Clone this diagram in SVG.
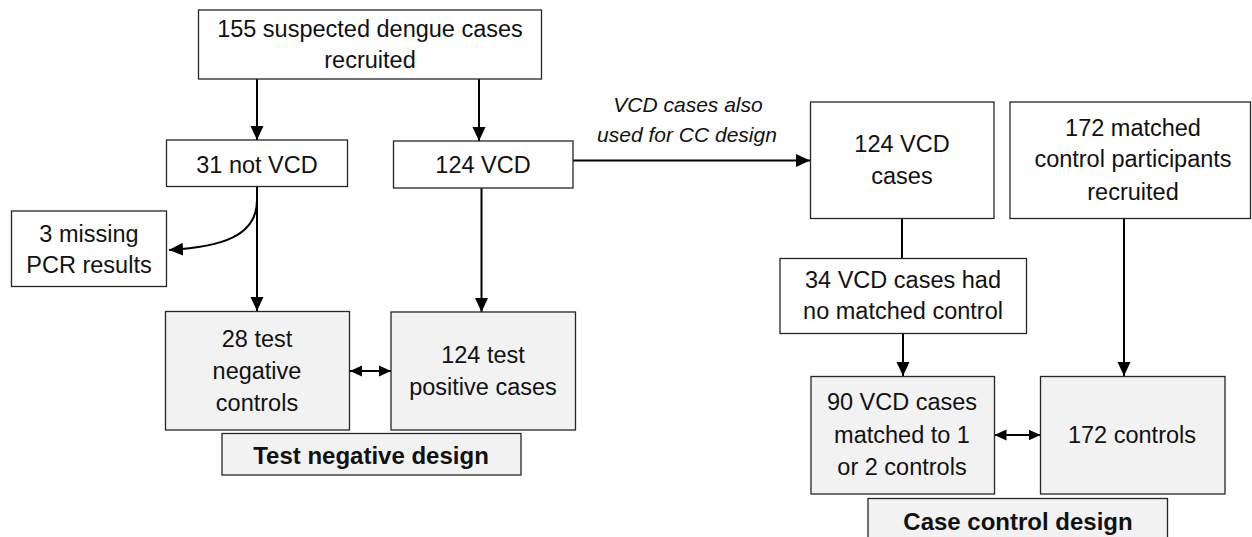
<svg xmlns="http://www.w3.org/2000/svg" width="1252" height="537" viewBox="0 0 1252 537">
<style>
.box{fill:#ffffff;stroke:#262626;stroke-width:1.3}
.gbox{fill:#f2f2f2;stroke:#262626;stroke-width:1.3}
.t{font-family:"Liberation Sans",Arial,sans-serif;font-size:23.5px;fill:#111;text-anchor:middle}
.i{font-family:"Liberation Sans",Arial,sans-serif;font-size:21px;font-style:italic;fill:#111;text-anchor:middle}
.b{font-family:"Liberation Sans",Arial,sans-serif;font-size:24px;font-weight:bold;fill:#111;text-anchor:middle}
.c{fill:none;stroke:#000;stroke-width:2}
</style>
<defs>
<marker id="ah" markerUnits="userSpaceOnUse" markerWidth="14" markerHeight="14" viewBox="0 0 14 14" refX="14" refY="7" orient="auto-start-reverse">
<path d="M0,0.5 L14,7 L0,13.5 z" fill="#000"/>
</marker>
<marker id="ahs" markerUnits="userSpaceOnUse" markerWidth="12" markerHeight="12" viewBox="0 0 12 12" refX="12" refY="6" orient="auto-start-reverse">
<path d="M0,0.5 L12,6 L0,11.5 z" fill="#000"/>
</marker>
</defs>
<g id="connectors">
<line class="c" x1="257" y1="79" x2="257" y2="140" marker-end="url(#ah)"/>
<line class="c" x1="479" y1="79" x2="479" y2="141" marker-end="url(#ah)"/>
<line class="c" x1="573" y1="160.5" x2="810" y2="160.5" marker-end="url(#ah)"/>
<line class="c" x1="257" y1="186" x2="257" y2="311" marker-end="url(#ah)"/>
<path class="c" d="M257,200 C257,236 222,247 169,250" marker-end="url(#ah)"/>
<line class="c" x1="481.5" y1="188" x2="481.5" y2="312" marker-end="url(#ah)"/>
<line class="c" x1="350" y1="371" x2="391" y2="371" marker-start="url(#ahs)" marker-end="url(#ahs)"/>
<line class="c" x1="902" y1="219" x2="902" y2="258"/>
<line class="c" x1="903" y1="334" x2="903" y2="376" marker-end="url(#ah)"/>
<line class="c" x1="1124" y1="219" x2="1124" y2="376" marker-end="url(#ah)"/>
<line class="c" x1="994.5" y1="435" x2="1040.5" y2="435" marker-start="url(#ahs)" marker-end="url(#ahs)"/>
<text class="i" x="688" y="111.5">VCD cases also</text>
<text class="i" x="687" y="141.5">used for CC design</text>
</g>
<g id="n-suspected">
<rect class="box" x="198.5" y="10" width="343" height="69"/>
<text class="t" x="370" y="36.5">155 suspected dengue cases</text>
<text class="t" x="370" y="68">recruited</text>
</g>
<g id="n-notvcd">
<rect class="box" x="166.5" y="140" width="181" height="46.5"/>
<text class="t" x="257" y="172.5">31 not VCD</text>
</g>
<g id="n-vcd">
<rect class="box" x="393.5" y="141" width="179.5" height="47"/>
<text class="t" x="483" y="173">124 VCD</text>
</g>
<g id="n-missing">
<rect class="box" x="11.5" y="211" width="155" height="75.5"/>
<text class="t" x="89" y="242">3 missing</text>
<text class="t" x="89" y="272.5">PCR results</text>
</g>
<g id="n-testneg">
<rect class="gbox" x="165.5" y="311.5" width="184" height="118.5"/>
<text class="t" x="257" y="347">28 test</text>
<text class="t" x="257" y="379">negative</text>
<text class="t" x="257" y="410.5">controls</text>
</g>
<g id="n-testpos">
<rect class="gbox" x="391" y="312" width="184.5" height="118"/>
<text class="t" x="483" y="362.5">124 test</text>
<text class="t" x="483" y="394.5">positive cases</text>
</g>
<g id="n-tnd">
<rect class="gbox" x="222" y="433.5" width="299" height="41.5"/>
<text class="b" x="371" y="464">Test negative design</text>
</g>
<g id="n-vcdcases">
<rect class="box" x="810.5" y="102" width="183.5" height="116.5"/>
<text class="t" x="902" y="151.5">124 VCD</text>
<text class="t" x="902" y="184">cases</text>
</g>
<g id="n-matched">
<rect class="box" x="1010" y="102" width="240.5" height="116.5"/>
<text class="t" x="1133" y="135.5">172 matched</text>
<text class="t" x="1133" y="167">control participants</text>
<text class="t" x="1133" y="199.5">recruited</text>
</g>
<g id="n-nomatch">
<rect class="box" x="780" y="258.5" width="246.5" height="75"/>
<text class="t" x="903" y="288">34 VCD cases had</text>
<text class="t" x="903" y="319">no matched control</text>
</g>
<g id="n-matchedcases">
<rect class="gbox" x="811" y="376.5" width="183.5" height="117.5"/>
<text class="t" x="902" y="410">90 VCD cases</text>
<text class="t" x="902" y="443">matched to 1</text>
<text class="t" x="902" y="475">or 2 controls</text>
</g>
<g id="n-controls">
<rect class="gbox" x="1040.5" y="376.5" width="184.5" height="117.5"/>
<text class="t" x="1132" y="443">172 controls</text>
</g>
<g id="n-ccd">
<rect class="gbox" x="868" y="498.5" width="299.5" height="45"/>
<text class="b" x="1018" y="530">Case control design</text>
</g>
</svg>
